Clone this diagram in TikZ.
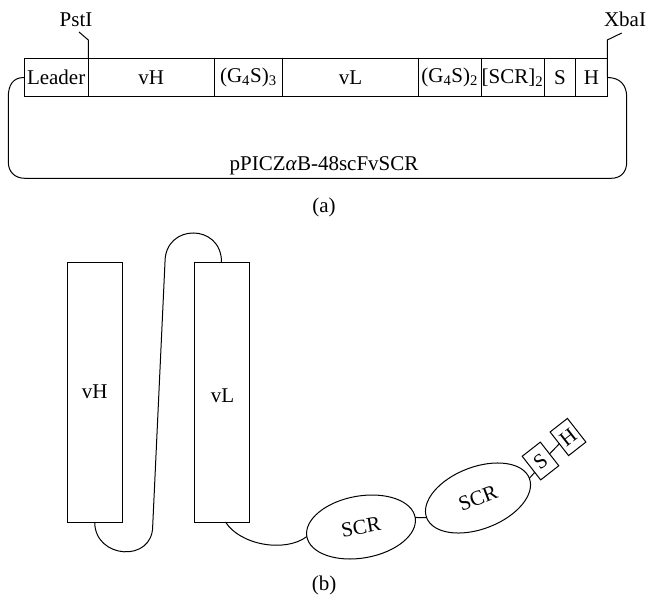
\documentclass[tikz,border=0pt]{standalone}
\usepackage{fontspec}
\setmainfont{Liberation Serif}
\usetikzlibrary{shapes.geometric,calc}

\begin{document}
\begin{tikzpicture}[x=1pt,y=-1pt,
  every node/.style={font=\fontsize{21}{25}\selectfont},
  line width=1pt,
  segbox/.style={draw, rectangle, inner sep=0pt, outer sep=0pt, minimum height=38.4pt, anchor=west},
  domainbox/.style={draw, rectangle, inner sep=0pt, outer sep=0pt, minimum width=55pt, minimum height=260pt},
  scrshape/.style={draw, ellipse, inner sep=0pt, outer sep=0pt, minimum width=110pt, minimum height=62pt},
  tagbox/.style={draw, rectangle, inner sep=0pt, outer sep=0pt, minimum height=30pt, rotate=38},
]
\useasboundingbox (0,0) rectangle (648,598);

% ---------- (a) expression cassette ----------
\node[segbox, minimum width=64.3pt]  (leader) at (24,77.5) {Leader};
\node[segbox, minimum width=125.7pt] (vhseg)  at (leader.east) {vH};
\node[segbox, minimum width=68.7pt]  (linkA)  at (vhseg.east) {(G\textsubscript{4}S)\textsubscript{3}};
\node[segbox, minimum width=135.6pt] (vlseg)  at (linkA.east) {vL};
\node[segbox, minimum width=62.7pt]  (linkB)  at (vlseg.east) {(G\textsubscript{4}S)\textsubscript{2}};
\node[segbox, minimum width=63pt]    (scrseg) at (linkB.east) {[SCR]\textsubscript{2}};
\node[segbox, minimum width=31.7pt]  (sseg)   at (scrseg.east) {S};
\node[segbox, minimum width=31.6pt]  (hseg)   at (sseg.east) {H};

% restriction sites
\node[anchor=base] (pst) at (76,26.5) {PstI};
\node[anchor=base] (xba) at (625,26.5) {XbaI};
\coordinate (pstTail) at (79,32);
\coordinate (xbaTail) at (621.7,33);
\draw (pstTail) -- ++(9.3,8) -- (leader.north east);
\draw (xbaTail) -- ++(-14.4,7) -- (hseg.east);

% vector backbone
\draw (leader.west) .. controls (13,77.5) and (8.3,85) .. (8.3,97)
  -- (8.3,162) .. controls (8.3,172) and (15,178.3) .. (25,178.3)
  -- (611,178.3) .. controls (621,178.3) and (626.7,172) .. (626.7,162)
  -- (626.7,97) .. controls (626.7,85) and (620,77.5) .. (hseg.east);

\node[anchor=base] (plasmid) at (324,170) {pPICZ\textit{α}B-48scFvSCR};
\node[anchor=base] (capA) at (324,212.7) {(a)};

% ---------- (b) protein domains ----------
\node[domainbox] (vh) at (94.7,392) {vH};
\node[domainbox] (vl) at (221.5,392) {};
\node (vltext) at (222.5,396) {vL};

% linker loop between vH and vL
\draw (vh.south) .. controls +(0,37) and +(0,37) .. (152.7,526)
  -- (165,262) .. controls +(0,-38.7) and +(0,-38.7) .. (vl.north);

\node[scrshape, rotate=10] (scrA) at (361,527) {SCR};
\node[scrshape, rotate=21] (scrB) at (478,498) {SCR};

\node[tagbox, minimum width=23pt] (sbox) at (540.5,461) {S};
\node[tagbox, minimum width=22pt] (hbox) at (568,437) {H};

\draw ($(vl.south)+(4,0)$) .. controls (240,545) and (285,553) .. (scrA.west);
\draw (scrA.east) -- (scrB.west);
\draw (scrB.east) -- (sbox.205);
\draw (sbox.east) -- (hbox.west);

\node[anchor=base] (capB) at (324,590) {(b)};
\end{tikzpicture}
\end{document}
